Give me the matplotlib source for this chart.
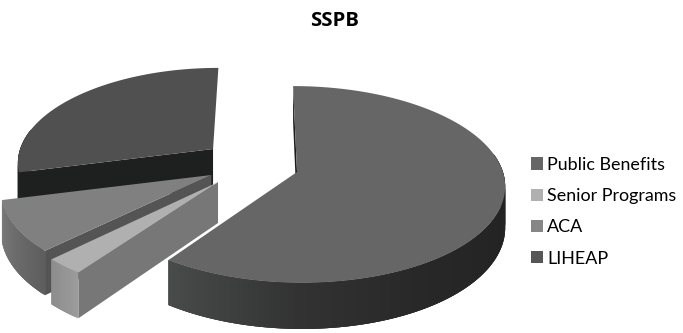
import numpy as np
import matplotlib
matplotlib.use("Agg")
import matplotlib.pyplot as plt
from matplotlib.patches import Polygon, Patch

# ---- data
categories = ["Public Benefits", "Senior Programs", "ACA", "LIHEAP"]
shares = [59.8, 2.7, 8.5, 29.0]
title_text = "SSPB"

# ---- style
top_colors = ["#666666", "#b0b0b0", "#808080", "#505050"]
legend_colors = ["#666666", "#b0b0b0", "#868686", "#565656"]
start_face_colors = ["#1a1c1c", "#767776", "#545454", "#1e2020"]
side_stops = [
    [(0, "#222222"), (100, "#222222"), (150, "#282828"), (180, "#323232"), (216, "#4a4c4c")],
    [(215, "#9c9c9c"), (225, "#8c8c8c")],
    [(225, "#5e5e5e"), (255, "#7a7a7a")],
    [(255, "#1e2020"), (360, "#1e2020")],
]
# slice apex offsets in the pie plane (explosion) and slice radius
apex_x = [34.7, -43.0, -50.0, -50.0]
apex_v = [0.073, 0.176, 0.104, -0.172]
radius = [204.0, 204.0, 205.0, 197.0]

# projection
XV, YH, HGT, K, DEPTH = 262.0, 165.0, 95.0, 0.125, 40.0


def project(X, V):
    s = 1.0 / (1.0 - K * V)
    return XV + X * s, YH + HGT * V * s, DEPTH * s


def rim(i, deg):
    t = np.radians(deg)
    return project(apex_x[i] + radius[i] * np.sin(t), apex_v[i] - np.cos(t))


def hex2rgb(h):
    return np.array(matplotlib.colors.to_rgb(h))


def side_color(i, deg):
    a = [p[0] for p in side_stops[i]]
    c = np.array([hex2rgb(p[1]) for p in side_stops[i]])
    return tuple(np.interp(deg, a, c[:, j]) for j in range(3))


fig = plt.figure(figsize=(6.83, 3.33), dpi=100)
ax = fig.add_axes([0, 0, 1, 1])
ax.set_xlim(0, 683)
ax.set_ylim(333, 0)
ax.axis("off")

edges = np.concatenate([[0], np.cumsum(shares)]) * 3.6

for i in [3, 2, 1, 0]:
    a0, a1 = edges[i], edges[i + 1]
    ax_, ay_, ad_ = project(apex_x[i], apex_v[i])
    # radial face on the clockwise-start edge
    rx, ry, rd = rim(i, a0)
    ax.add_patch(Polygon([(ax_, ay_), (rx, ry), (rx, ry + rd), (ax_, ay_ + ad_)],
                         closed=True, fc=start_face_colors[i], ec="none"))
    # outer side: overlapping strips painted from the far end, so no seams show
    deg = np.linspace(a0, a1, max(int((a1 - a0) * 2), 10))
    for j in range(len(deg) - 1):
        d0, d1 = deg[j], deg[min(j + 3, len(deg) - 1)]
        if np.cos(np.radians(d0)) < 0.2:
            mid = np.linspace(d0, d1, 5)
            r = np.array([rim(i, d) for d in mid])
            upper = r[:, :2]
            lower = np.column_stack([r[:, 0], r[:, 1] + r[:, 2]])
            c = side_color(i, d0)
            ax.add_patch(Polygon(np.vstack([upper, lower[::-1]]),
                                 closed=True, fc=c, ec="none"))
    # top surface
    arc = np.array([rim(i, d)[:2] for d in np.linspace(a0, a1, 120)])
    pts = np.vstack([[ax_, ay_], arc])
    ax.add_patch(Polygon(pts, closed=True, fc=top_colors[i], ec="none"))

ax.text(334.5, 20.5, title_text, ha="center", va="center", fontsize=14.7,
        fontweight="bold", family="Open Sans", color="black")

handles = [Patch(fc=c, ec="none") for c in legend_colors]
leg = ax.legend(handles, categories, loc="upper left",
                bbox_to_anchor=(526 / 683, 1 - 151.5 / 333), frameon=False,
                prop={"family": "Lato", "size": 12.9},
                handlelength=0.67, handleheight=0.67, handletextpad=0.2,
                labelspacing=0.85, borderpad=0.3, borderaxespad=0)

fig.savefig("out.png", dpi=100, facecolor="white")
